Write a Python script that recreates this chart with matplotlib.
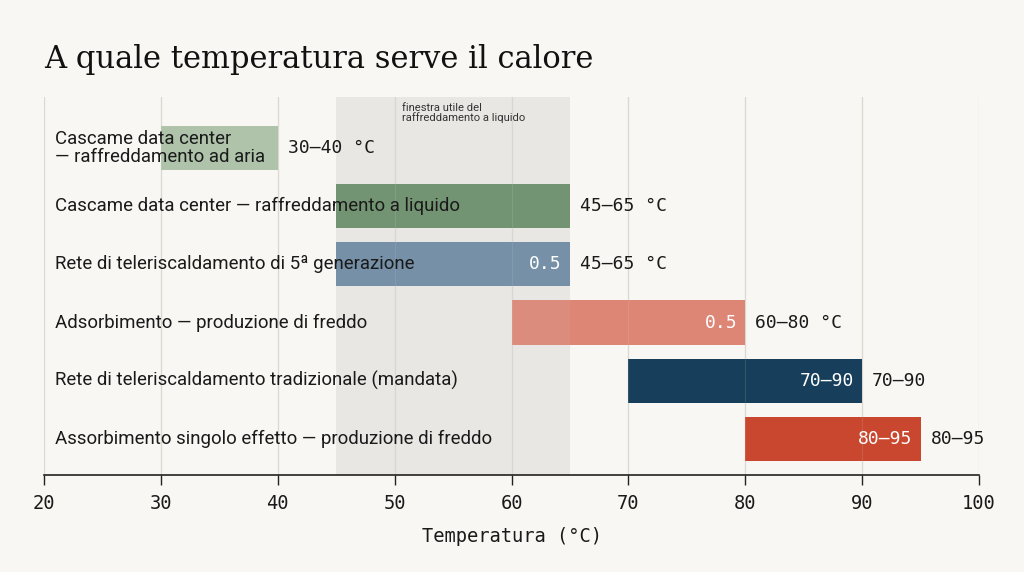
import matplotlib
matplotlib.use("Agg")
import matplotlib.pyplot as plt

categories = [
    "Cascame data center\n— raffreddamento ad aria",
    "Cascame data center — raffreddamento a liquido",
    "Rete di teleriscaldamento di 5ª generazione",
    "Adsorbimento — produzione di freddo",
    "Rete di teleriscaldamento tradizionale (mandata)",
    "Assorbimento singolo effetto — produzione di freddo",
]
t_min = [30, 45, 45, 60, 70, 80]
t_max = [40, 65, 65, 80, 90, 95]
inside_labels = ["", "", "0.5", "0.5", "70–90", "80–95"]
outside_labels = ["30–40 °C", "45–65 °C", "45–65 °C", "60–80 °C", "70–90", "80–95"]
colors = ["#aec3aa", "#6b8f6c", "#6e8ca4", "#dd8676", "#173f5b", "#c9472f"]
band = (45, 65)
band_note = "finestra utile del\nraffreddamento a liquido"
xticks = [20, 30, 40, 50, 60, 70, 80, 90, 100]
xlabel = "Temperatura (°C)"
title = "A quale temperatura serve il calore"

BG = "#f9f7f3"
fig = plt.figure(figsize=(10.24, 5.72), dpi=100, facecolor=BG)
ax = fig.add_axes([44/1024, 1-475/572, (979-44)/1024, (475-97)/572])
ax.set_facecolor(BG)

sans = ["Roboto", "DejaVu Sans"]
mono = ["DejaVu Sans Mono"]

ys = list(range(len(categories)))
ax.axvspan(band[0], band[1], color="#ebe9e6", zorder=1, lw=0)
for x in xticks:
    ax.axvline(x, color="#dcd8d2", lw=0.9, zorder=1.5)
ax.barh(ys, [b - a for a, b in zip(t_min, t_max)], left=t_min, height=0.76,
        color=colors, zorder=2)
ax.axvspan(band[0], band[1], color="#d9d6d2", alpha=0.08, zorder=3, lw=0)
for x in xticks:
    ax.axvline(x, color="#d8d4ce", lw=0.8, alpha=0.15, zorder=3.5)

for i, (cat, a, b, il, ol) in enumerate(zip(categories, t_min, t_max, inside_labels, outside_labels)):
    ax.text(20.95, i, cat, ha="left", va="center", fontsize=13.4, family=sans,
            color="#1a1a1a", zorder=5, linespacing=0.95)
    if il:
        ax.text(b - 0.7, i, il, ha="right", va="center", fontsize=13, family=mono,
                color="white", zorder=5)
    ax.text(b + 0.85, i, ol, ha="left", va="center", fontsize=13, family=mono,
            color="#1a1a1a", zorder=5)

ax.text(50.6, -0.78, band_note, ha="left", va="top", fontsize=8.1, family=sans,
        color="#333333", zorder=5, linespacing=1.0)

ax.set_xlim(20, 100)
ax.set_ylim(5.62, -0.876)
ax.set_xticks(xticks)
ax.set_xticklabels([str(x) for x in xticks], family=mono, fontsize=13.5, color="#1a1a1a")
ax.set_yticks([])
for s in ["top", "right", "left"]:
    ax.spines[s].set_visible(False)
ax.spines["bottom"].set_color("#222222")
ax.spines["bottom"].set_linewidth(1.2)
ax.spines["bottom"].set_zorder(6)
ax.tick_params(axis="x", direction="out", length=7, width=1, color="#222222", pad=7)
ax.set_xlabel(xlabel, family=mono, fontsize=13.5, color="#1a1a1a", labelpad=10)

fig.text(44/1024, 1-68/572, title, ha="left", va="baseline", fontsize=22,
         family=["DejaVu Serif"], color="#111111")

fig.savefig("out.png", dpi=100, facecolor=BG)
